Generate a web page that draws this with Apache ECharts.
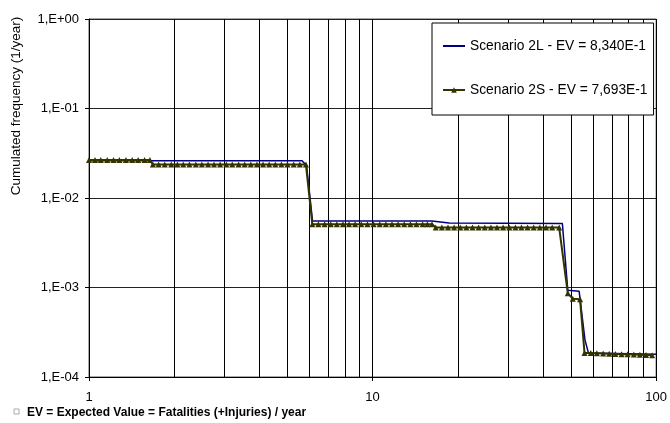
<!DOCTYPE html>
<html>
<head>
<meta charset="utf-8">
<script src="https://cdn.jsdelivr.net/npm/echarts@6/dist/echarts.min.js"></script>
<style>
html,body{margin:0;padding:0;background:#fff;}
#chart{width:670px;height:423px;}
</style>
</head>
<body>
<div id="chart"></div>
<script>
// ---- data ----
const nameL = 'Scenario 2L - EV = 8,340E-1';
const nameS = 'Scenario 2S - EV = 7,693E-1';

const xL = [1, 5.64, 5.85, 6.14, 16.2, 18.6, 46.7, 48.8, 53.5, 56.1, 57.7, 100];
const yL = [0.026, 0.026, 0.023, 0.00555, 0.00555, 0.00525, 0.00518, 0.00093, 0.00091, 0.00026, 0.000186, 0.00018];

const xS = [1, 1.05, 1.1, 1.16, 1.22, 1.28, 1.35, 1.42, 1.49, 1.57, 1.64,
  1.68, 1.76, 1.85, 1.95, 2.05, 2.15, 2.26, 2.38, 2.5, 2.63, 2.76, 2.9, 3.05, 3.2, 3.37, 3.54, 3.72, 3.91, 4.11, 4.32, 4.54, 4.77, 5.01, 5.27, 5.54, 5.82,
  6.13, 6.44, 6.77, 7.12, 7.48, 7.86, 8.26, 8.68, 9.12, 9.59, 10.08, 10.6, 11.14, 11.71, 12.3, 12.93, 13.59, 14.28, 15.01, 15.6, 16.2,
  16.7, 17.55, 18.45, 19.39, 20.38, 21.42, 22.51, 23.66, 24.87, 26.14, 27.47, 28.87, 30.35, 31.9, 33.5, 35.2, 37.0, 38.9, 40.9, 43.0, 45.5,
  48.8, 50.8, 53.9,
  55.9, 58.8, 61.8, 65.0, 68.3, 71.8, 75.5, 79.3, 83.4, 87.6, 92.1, 96.8];
const yS = [0.0265, 0.0265, 0.0265, 0.0265, 0.0265, 0.0265, 0.0265, 0.0265, 0.0265, 0.0265, 0.0265,
  0.0237, 0.0237, 0.0237, 0.0237, 0.0237, 0.0237, 0.0237, 0.0237, 0.0237, 0.0237, 0.0237, 0.0237, 0.0237, 0.0237, 0.0237, 0.0237, 0.0237, 0.0237, 0.0237, 0.0237, 0.0237, 0.0237, 0.0237, 0.0237, 0.0237, 0.0237,
  0.0051, 0.0051, 0.0051, 0.0051, 0.0051, 0.0051, 0.0051, 0.0051, 0.0051, 0.0051, 0.0051, 0.0051, 0.0051, 0.0051, 0.0051, 0.0051, 0.0051, 0.0051, 0.0051, 0.0051, 0.0051,
  0.00468, 0.00468, 0.00468, 0.00468, 0.00468, 0.00468, 0.00468, 0.00468, 0.00468, 0.00468, 0.00468, 0.00468, 0.00468, 0.00468, 0.00468, 0.00468, 0.00468, 0.00468, 0.00468, 0.00468, 0.00468,
  0.00086, 0.00075, 0.00074,
  0.000185, 0.000185, 0.000184, 0.000183, 0.000182, 0.000181, 0.00018, 0.000179, 0.000178, 0.000177, 0.000176, 0.000175];

const xMinorGrid = [2, 3, 4, 5, 6, 7, 8, 9, 20, 30, 40, 50, 60, 70, 80, 90];
const xTickLabels = ['1', '10', '100'];
const yTickLabels = ['1,E-04', '1,E-03', '1,E-02', '1,E-01', '1,E+00'];
const yAxisTitle = 'Cumulated frequency (1/year)';
const footNote = 'EV = Expected Value = Fatalities (+Injuries) / year';

// ---- chart ----
const FONT = 'Liberation Sans, Arial, sans-serif';
const chart = echarts.init(document.getElementById('chart'), null, {renderer: 'canvas'});
const pair = (xs, ys) => xs.map((x, i) => [x, ys[i]]);

chart.setOption({
  animation: false,
  backgroundColor: '#fff',
  grid: {left: 89, right: 13, top: 19, bottom: 46, show: true, borderColor: '#555', borderWidth: 1},
  legend: {
    data: [
      {name: nameL, itemStyle: {color: 'rgba(0,0,0,0)', borderWidth: 0}},
      {name: nameS}
    ],
    orient: 'vertical',
    left: 432, top: 23, z: 10,
    padding: [16, 6, 18, 10],
    itemGap: 30, itemWidth: 22, itemHeight: 7,
    backgroundColor: '#fff', borderColor: '#000', borderWidth: 1, borderRadius: 0,
    textStyle: {fontFamily: FONT, fontSize: 13.8, color: '#000'}
  },
  xAxis: {
    type: 'log', logBase: 10, min: 1, max: 100,
    axisLine: {show: true, lineStyle: {color: '#000', width: 1}},
    axisTick: {show: true, length: 4, lineStyle: {color: '#000'}},
    axisLabel: {
      fontFamily: FONT, fontSize: 13, color: '#000', margin: 14,
      formatter: v => xTickLabels[Math.round(Math.log10(v))]
    },
    splitLine: {show: true, lineStyle: {color: '#000', width: 1}}
  },
  yAxis: {
    type: 'log', logBase: 10, min: 0.0001, max: 1,
    axisLine: {show: true, lineStyle: {color: '#000', width: 1}},
    axisTick: {show: true, length: 4, lineStyle: {color: '#000'}},
    axisLabel: {
      fontFamily: FONT, fontSize: 13, color: '#000', margin: 10,
      formatter: v => yTickLabels[Math.round(Math.log10(v)) + 4]
    },
    splitLine: {show: true, lineStyle: {color: '#222', width: 1}}
  },
  series: [
    {
      name: 'grid', type: 'line', data: [], z: 1, silent: true,
      markLine: {
        silent: true, symbol: 'none', animation: false, z: 1,
        label: {show: false},
        lineStyle: {color: '#000', width: 1, type: 'solid'},
        emphasis: {disabled: true},
        data: xMinorGrid.map(v => ({xAxis: v}))
      }
    },
    {
      name: nameL, type: 'line', z: 3,
      data: pair(xL, yL),
      symbol: 'none',
      lineStyle: {color: '#000080', width: 1.5},
      itemStyle: {color: '#000080'}
    },
    {
      name: nameS, type: 'line', z: 4,
      data: pair(xS, yS),
      symbol: 'triangle', symbolSize: 6, showSymbol: true,
      lineStyle: {color: '#333300', width: 2},
      itemStyle: {color: '#333300'}
    }
  ],
  graphic: [
    {
      type: 'text', x: 16, y: 106, rotation: Math.PI / 2,
      style: {text: yAxisTitle, font: '13.5px ' + FONT, fill: '#000', align: 'center', verticalAlign: 'middle'}
    },
    {
      type: 'rect', shape: {x: 14, y: 409, width: 5, height: 5},
      style: {fill: 'none', stroke: '#aaa', lineWidth: 1}
    },
    {
      type: 'text', x: 27, y: 413,
      style: {text: footNote, font: 'bold 12px ' + FONT, fill: '#000', align: 'left', verticalAlign: 'middle'}
    }
  ]
});
</script>
</body>
</html>
